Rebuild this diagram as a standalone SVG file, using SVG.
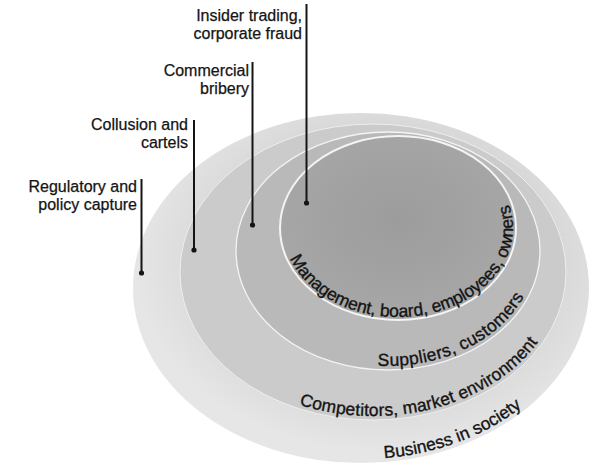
<svg xmlns="http://www.w3.org/2000/svg" width="596" height="465" viewBox="0 0 596 465">
<style>
.bg{fill:#ffffff}
.ring{stroke:#f4f4f4}
.callout{font-family:"Liberation Sans",Arial,sans-serif;font-size:16px;fill:#141414;stroke:#141414;stroke-width:0.25;text-anchor:end}
.arc{font-family:"Liberation Sans",Arial,sans-serif;font-size:17.5px;fill:#141414;stroke:#141414;stroke-width:0.35}
.lead{stroke:#141414;stroke-width:2;fill:none;marker-end:url(#dot)}
</style>
<defs>
<marker id="dot" viewBox="0 0 6 6" refX="3" refY="3" markerWidth="6" markerHeight="6" markerUnits="userSpaceOnUse">
<circle cx="3" cy="3" r="2.6" fill="#141414"/>
</marker>
<radialGradient id="gOuter" cx="0.55" cy="0.42" r="0.55">
<stop offset="0.7" stop-color="#d8d8d8"/>
<stop offset="1" stop-color="#e6e6e6"/>
</radialGradient>
<radialGradient id="gMgmt" cx="0.5" cy="0.45" r="0.6">
<stop offset="0" stop-color="#9c9c9c"/>
<stop offset="1" stop-color="#a8a8a8"/>
</radialGradient>
<path id="pBusiness" d="M384.4,458.1 A224,171 0 0 0 585,288"/>
<path id="pCompetitors" d="M299.2,404.6 A189,144 0 0 0 562,272"/>
<path id="pSuppliers" d="M377.7,365.7 A148,115 0 0 0 533.8,231"/>
<path id="pManagement" d="M289.9,258.4 A115,89 0 1 0 486.1,170.8"/>
</defs>
<rect class="bg" x="0" y="0" width="596" height="465"/>
<g id="business-in-society">
<ellipse cx="361" cy="288" rx="228" ry="175" fill="url(#gOuter)"/>
<text class="arc"><textPath href="#pBusiness">Business in society</textPath></text>
</g>
<g id="competitors">
<ellipse class="ring" cx="373" cy="272" rx="193" ry="148" fill="#cbcbcb" stroke-width="0.8"/>
<text class="arc"><textPath href="#pCompetitors" textLength="262" lengthAdjust="spacing">Competitors, market environment</textPath></text>
</g>
<g id="suppliers">
<ellipse class="ring" cx="388" cy="251" rx="152" ry="119" fill="#b9b9b9" stroke-width="1.3"/>
<text class="arc"><textPath href="#pSuppliers" textLength="170" lengthAdjust="spacing">Suppliers, customers</textPath></text>
</g>
<g id="management">
<ellipse class="ring" cx="398" cy="228" rx="118" ry="92" fill="url(#gMgmt)" stroke-width="2"/>
<text class="arc"><textPath href="#pManagement" textLength="314" lengthAdjust="spacing">Management, board, employees, owners</textPath></text>
</g>
<g id="label-insider">
<text class="callout" x="302" y="21">Insider trading,</text>
<text class="callout" x="302" y="39">corporate fraud</text>
</g>
<g id="label-bribery">
<text class="callout" x="249" y="76">Commercial</text>
<text class="callout" x="249" y="94">bribery</text>
</g>
<g id="label-collusion">
<text class="callout" x="188" y="130">Collusion and</text>
<text class="callout" x="188" y="148">cartels</text>
</g>
<g id="label-regulatory">
<text class="callout" x="137" y="192">Regulatory and</text>
<text class="callout" x="137" y="210">policy capture</text>
</g>
<g id="connectors">
<line class="lead" x1="306.5" y1="4" x2="306.5" y2="203"/>
<line class="lead" x1="252.5" y1="62" x2="252.5" y2="225"/>
<line class="lead" x1="194" y1="120" x2="194" y2="250"/>
<line class="lead" x1="141.5" y1="179" x2="141.5" y2="273"/>
</g>
</svg>
